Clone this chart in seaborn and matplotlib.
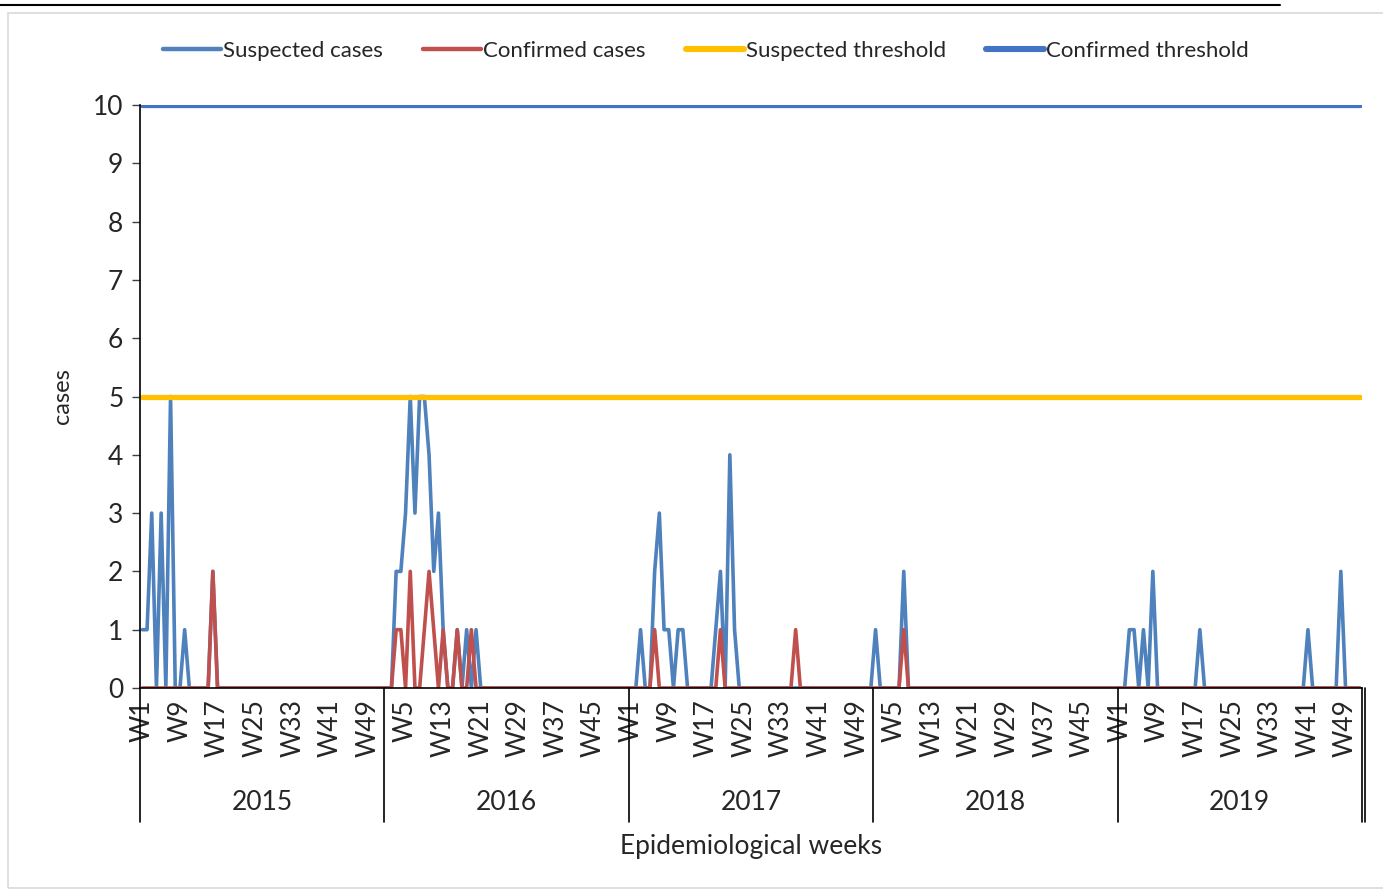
"""
Weekly suspected / confirmed cases, 2015-2019, with alert thresholds.

Usage:
    python plot.py
"""
import numpy as np
import pandas as pd
import matplotlib
matplotlib.use("Agg")
import matplotlib.pyplot as plt
import matplotlib.transforms as mtransforms
from matplotlib.lines import Line2D
from matplotlib.patches import Rectangle
import seaborn as sns

YEARS = [2015, 2016, 2017, 2018, 2019]
WEEKS = [f"W{w}" for w in range(1, 53)]

# non-zero weeks only (week -> cases), every other week is 0
SUSPECTED_2015 = {1: 1, 2: 1, 3: 3, 5: 3, 7: 5, 10: 1, 16: 2}
SUSPECTED_2016 = {3: 2, 4: 2, 5: 3, 6: 5, 7: 3, 8: 5, 9: 5, 10: 4, 11: 2,
                  12: 3, 13: 1, 16: 1, 18: 1, 20: 1}
SUSPECTED_2017 = {3: 1, 6: 2, 7: 3, 8: 1, 9: 1, 11: 1, 12: 1, 19: 1, 20: 2,
                  22: 4, 23: 1}
SUSPECTED_2018 = {1: 1, 7: 2}
SUSPECTED_2019 = {3: 1, 4: 1, 6: 1, 8: 2, 18: 1, 41: 1, 48: 2}

CONFIRMED_2015 = {16: 2}
CONFIRMED_2016 = {3: 1, 4: 1, 6: 2, 9: 1, 10: 2, 11: 1, 13: 1, 16: 1, 19: 1}
CONFIRMED_2017 = {6: 1, 20: 1, 36: 1}
CONFIRMED_2018 = {7: 1}
CONFIRMED_2019 = {}

SUSPECTED_THRESHOLD = 5
CONFIRMED_THRESHOLD = 10

COLORS = {
    "Suspected cases": "#4F81BD",
    "Confirmed cases": "#C0504D",
    "Suspected threshold": "#FFC000",
    "Confirmed threshold": "#4472C4",
}
WIDTHS = {
    "Suspected cases": 2.6,
    "Confirmed cases": 2.6,
    "Suspected threshold": 3.8,
    "Confirmed threshold": 3.8,
}


def _expand(*years):
    out = []
    for d in years:
        out += [d.get(w, 0) for w in range(1, 53)]
    return out


def build_frame() -> pd.DataFrame:
    suspected = _expand(SUSPECTED_2015, SUSPECTED_2016, SUSPECTED_2017,
                        SUSPECTED_2018, SUSPECTED_2019)
    confirmed = _expand(CONFIRMED_2015, CONFIRMED_2016, CONFIRMED_2017,
                        CONFIRMED_2018, CONFIRMED_2019)
    n = len(suspected)
    return pd.DataFrame({
        "pos": np.arange(n) + 0.5,
        "Suspected cases": suspected,
        "Confirmed cases": confirmed,
        "Suspected threshold": [SUSPECTED_THRESHOLD] * n,
        "Confirmed threshold": [CONFIRMED_THRESHOLD] * n,
    })


def main() -> None:
    sns.set_theme(style="white")
    plt.rcParams["font.family"] = ["Lato", "DejaVu Sans"]
    fs = 19
    fs_leg = 16

    df = build_frame()
    n = len(df)

    fig = plt.figure(figsize=(13.83, 8.90), dpi=100)
    ax = fig.add_axes([140 / 1383, 1 - 688 / 890, 1222 / 1383, 583 / 890])

    for name in COLORS:
        sns.lineplot(data=df, x="pos", y=name, ax=ax, color=COLORS[name],
                     lw=WIDTHS[name], label=name, estimator=None, sort=False,
                     legend=False)

    ax.set_xlim(0, n)
    ax.set_ylim(0, 10)
    ax.set_yticks(range(0, 11))
    ax.tick_params(axis="y", labelsize=fs, length=6, width=1, color="#404040",
                   left=True, pad=6)
    ax.set_ylabel("cases", fontsize=fs_leg + 1)
    ax.yaxis.set_label_coords(-(140 - 73) / 1222, 0.5)
    ax.set_xlabel("")

    # every 8th week is labelled
    tick_idx = list(range(0, n, 8))
    ax.set_xticks([i + 0.5 for i in tick_idx])
    ax.set_xticklabels([WEEKS[i % 52] for i in tick_idx], rotation=90,
                       fontsize=fs)
    ax.tick_params(axis="x", length=0, pad=8)

    for side in ["top", "right"]:
        ax.spines[side].set_visible(False)
    ax.spines["left"].set_color("black")
    ax.spines["bottom"].set_color("black")
    ax.spines["left"].set_linewidth(1.2)
    ax.spines["bottom"].set_linewidth(1.2)

    # year separators and labels under the week labels
    trans = mtransforms.blended_transform_factory(ax.transData, ax.transAxes)
    for k in range(len(YEARS) + 1):
        ax.plot([k * 52, k * 52], [0, -0.23], color="black", lw=1.2,
                transform=trans, clip_on=False)
    ax.plot([n + 0.6, n + 0.6], [0, -0.23], color="black", lw=1.2,
            transform=trans, clip_on=False)
    for k, year in enumerate(YEARS):
        ax.text(k * 52 + 26, -0.197, str(year), transform=trans,
                ha="center", va="center", fontsize=fs)
    ax.text(0.5, -0.272, "Epidemiological weeks", transform=ax.transAxes,
            ha="center", va="center", fontsize=fs)

    handles = [Line2D([], [], color=COLORS[k], lw=WIDTHS[k] + 0.6) for k in COLORS]
    fig.legend(handles, list(COLORS), loc="center",
               bbox_to_anchor=(706 / 1383, 1 - 51 / 890), ncol=4,
               frameon=False, fontsize=fs_leg, handlelength=2.6,
               handletextpad=0.1, columnspacing=1.8)

    # page rule and chart-area border
    fig.add_artist(Line2D([0, 1280 / 1383], [1 - 5 / 890] * 2,
                          color="black", lw=1.5))
    fig.add_artist(Rectangle((8 / 1383, 2 / 890), 1.0, 1 - 15 / 890,
                             fill=False, edgecolor="#D9D9D9", lw=1.2))

    fig.savefig("out.png", dpi=100)
    plt.close(fig)


if __name__ == "__main__":
    main()
